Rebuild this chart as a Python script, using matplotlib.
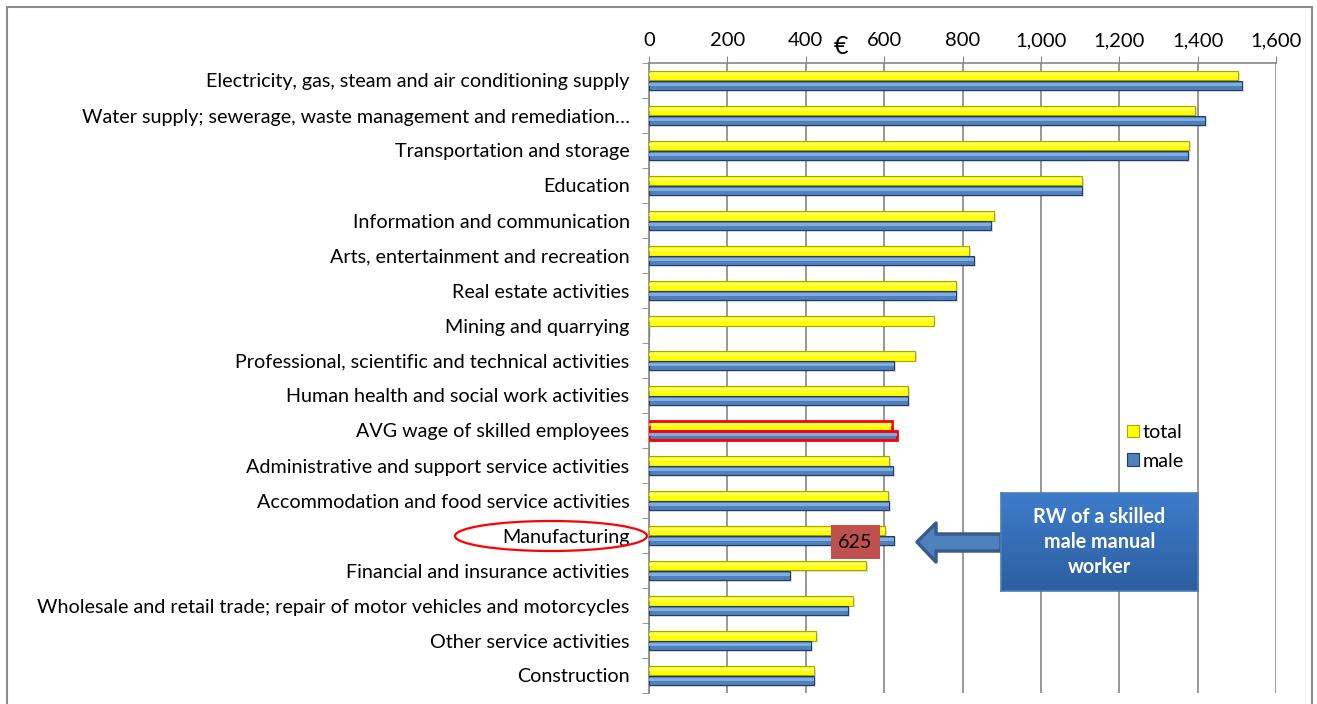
import numpy as np
import matplotlib
matplotlib.use("Agg")
import matplotlib.pyplot as plt
from matplotlib.patches import Rectangle, Ellipse, Polygon
from matplotlib.ticker import FuncFormatter, FixedLocator
from matplotlib.colors import LinearSegmentedColormap

categories = [
    "Electricity, gas, steam and air conditioning supply",
    "Water supply; sewerage, waste management and remediation\u2026",
    "Transportation and storage",
    "Education",
    "Information and communication",
    "Arts, entertainment and recreation",
    "Real estate activities",
    "Mining and quarrying",
    "Professional, scientific and technical activities",
    "Human health and social work activities",
    "AVG wage of skilled employees",
    "Administrative and support service activities",
    "Accommodation and food service activities",
    "Manufacturing",
    "Financial and insurance activities",
    "Wholesale and retail trade; repair of motor vehicles and motorcycles",
    "Other service activities",
    "Construction",
]
total = [1503, 1394, 1378, 1104, 880, 816, 783, 726, 679, 660, 619, 613, 609, 603, 555, 521, 427, 422]
male = [1513, 1419, 1376, 1105, 872, 830, 784, np.nan, 626, 662, 632, 623, 613, 625, 359, 508, 414, 420]
xticks = [0, 200, 400, 600, 800, 1000, 1200, 1400, 1600]
highlight_cat = "AVG wage of skilled employees"
focus_cat = "Manufacturing"

W, H = 1317, 704
plt.rcParams['font.family'] = ['Lato', 'DejaVu Sans']
fig = plt.figure(figsize=(W / 100, H / 100), dpi=100)

def fx(px):
    return px / W

def fy(py):
    return 1 - py / H

FS = 14.2

# axes area in pixels
L, R, T, B = 649, 1276, 63, 693
ax = fig.add_axes([fx(L), fy(B), fx(R) - fx(L), fy(T) - fy(B)])

n = len(categories)
idx = np.arange(n)
bh = 0.27
off = 0.135

yellow, yellow_edge, yellow_hi = "#FFFF00", "#A6A600", "#FFFF99"
blue, blue_edge, blue_hi = "#4F81BD", "#233E66", "#8DB4E2"

tot = np.array(total, dtype=float)
mal = np.array(male, dtype=float)

# shadows
ax.barh(idx - off + 0.05, tot + 5, height=bh, left=0, color="#000000", alpha=0.13, zorder=2)
ax.barh(idx + off + 0.05, np.nan_to_num(mal) + 5, height=bh, left=0, color="#000000", alpha=0.13, zorder=2)

ecol_t = ["#FF0000" if c == highlight_cat else yellow_edge for c in categories]
ecol_m = ["#FF0000" if c == highlight_cat else blue_edge for c in categories]
lw_t = [2.0 if c == highlight_cat else 0.8 for c in categories]

ax.barh(idx - off, tot, height=bh, color=yellow, edgecolor=ecol_t, linewidth=lw_t, zorder=3, label="total")
ax.barh(idx - off - 0.03, tot, height=bh * 0.28, color=yellow_hi, linewidth=0, zorder=4, alpha=0.6)
ax.barh(idx + off, mal, height=bh, color=blue, edgecolor=ecol_m, linewidth=lw_t, zorder=3, label="male")
ax.barh(idx + off - 0.015, mal, height=bh * 0.28, color=blue_hi, linewidth=0, zorder=4, alpha=0.85)

ax.set_xlim(0, 1600)
ax.set_ylim(n - 0.5, -0.5)
ax.xaxis.tick_top()
ax.set_xticks(xticks)
ax.xaxis.set_major_formatter(FuncFormatter(lambda v, p: f"{int(v):,}"))
ax.tick_params(axis="x", direction="out", length=5, color="#868686", labelsize=14.5, pad=5, labelcolor="#000000")
ax.grid(axis="x", color="#868686", linewidth=1.2, zorder=0)
ax.set_axisbelow(True)

ax.set_yticks(idx)
ax.set_yticklabels(categories)
ax.yaxis.set_minor_locator(FixedLocator(np.arange(-0.5, n, 1.0)))
ax.tick_params(axis="y", which="major", length=0, labelsize=FS, pad=14)
ax.tick_params(axis="y", which="minor", length=5, color="#868686", direction="out")

for s in ["right", "bottom"]:
    ax.spines[s].set_visible(False)
for s in ["top", "left"]:
    ax.spines[s].set_color("#868686")
    ax.spines[s].set_linewidth(1.2)

# legend
leg = fig.legend(loc="upper left", bbox_to_anchor=(fx(1109), fy(406)), frameon=False,
                 fontsize=FS, handlelength=0.6, handleheight=0.6, handletextpad=0.2,
                 labelspacing=0.6)

# Euro sign
fig.text(fx(841), fy(46), "\u20ac", fontsize=18, ha="center", va="center")

# outer frame
fig.patches.append(Rectangle((fx(7), fy(712)), fx(1312) - fx(7), fy(7) - fy(712),
                             transform=fig.transFigure, fill=False, edgecolor="#8C8C8C",
                             linewidth=1.5, zorder=10))

# red ellipse around Manufacturing
fig.patches.append(Ellipse((fx(551), fy(536)), fx(192), 30 / H, transform=fig.transFigure,
                           fill=False, edgecolor="#FF0000", linewidth=1.6, zorder=10))

# 625 label box
mi = categories.index(focus_cat)
fig.patches.append(Rectangle((fx(831), fy(559)), fx(49), 34 / H, transform=fig.transFigure,
                             facecolor="#C0504D", edgecolor="none", zorder=10))
fig.text(fx(855.5), fy(542), f"{int(male[mi])}", fontsize=FS, ha="center", va="center", zorder=11)

# arrow
pts = [(917, 542), (936, 523), (936, 534), (1001, 534), (1001, 551), (936, 551), (936, 562)]
fig.patches.append(Polygon([(fx(x), fy(y)) for x, y in pts], closed=True, transform=fig.transFigure,
                           facecolor="#4F81BD", edgecolor="#385D8A", linewidth=2.5, zorder=10,
                           joinstyle="round"))

# textbox with gradient
bx = fig.add_axes([fx(1001), fy(591), fx(1198) - fx(1001), fy(493) - fy(591)], zorder=12)
grad = np.linspace(0, 1, 100).reshape(-1, 1)
cm = LinearSegmentedColormap.from_list("g", ["#3E7CCB", "#2D5FA0"])
bx.imshow(grad, aspect="auto", cmap=cm, extent=[0, 1, 0, 1], origin="upper")
bx.set_xlim(0, 1)
bx.set_ylim(0, 1)
bx.set_xticks([])
bx.set_yticks([])
for s in bx.spines.values():
    s.set_color("#4A7EBB")
    s.set_linewidth(1.2)
bx.text(0.5, 0.5, "RW of a skilled\nmale manual\nworker", color="white", fontsize=FS,
        fontweight="bold", ha="center", va="center", linespacing=1.3)

fig.savefig("out.png", dpi=100)
